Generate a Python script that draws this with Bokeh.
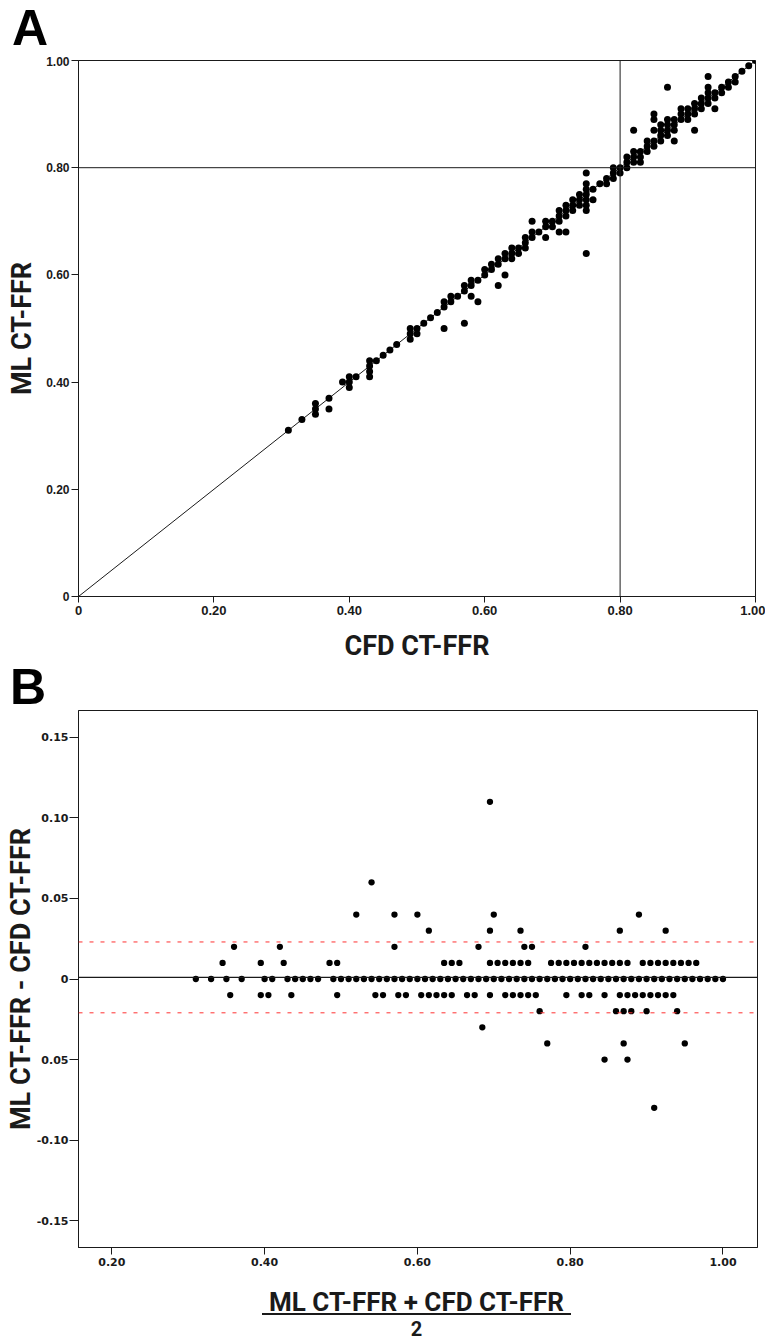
from bokeh.plotting import figure
from bokeh.models import Range1d, FixedTicker, Span, Div
from bokeh.layouts import column
from bokeh.embed import file_html
from bokeh.resources import INLINE

# ---------------- Panel A data : CFD CT-FFR (x) vs ML CT-FFR (y) ----------------
# points lying on the identity line (CFD == ML)
a_on_line = [0.31, 0.33, 0.35, 0.37, 0.40, 0.41, 0.43, 0.44, 0.45, 0.46, 0.47,
             0.49, 0.50, 0.51, 0.52, 0.53, 0.54, 0.55, 0.56, 0.57, 0.58, 0.59,
             0.60, 0.61, 0.62, 0.63, 0.64, 0.65, 0.66, 0.67, 0.68, 0.69, 0.70,
             0.71, 0.72, 0.73, 0.74, 0.75, 0.76, 0.77, 0.78, 0.79, 0.80, 0.81,
             0.82, 0.83, 0.84, 0.85, 0.86, 0.87, 0.88, 0.89, 0.90, 0.91, 0.92,
             0.93, 0.94, 0.95, 0.96, 0.97, 0.98, 0.99, 1.00]
# points off the identity line
a_cfd = [0.35, 0.40, 0.43, 0.49, 0.50, 0.64, 0.65, 0.66, 0.70, 0.71, 0.72, 0.73,
         0.74, 0.75, 0.78, 0.79, 0.80, 0.81, 0.82, 0.83, 0.84, 0.85, 0.86, 0.87,
         0.88, 0.90, 0.91, 0.92, 0.93, 0.94, 0.95, 0.96, 0.97,
         0.35, 0.39, 0.40, 0.43, 0.49, 0.54, 0.55, 0.57, 0.58, 0.60, 0.61, 0.62,
         0.63, 0.64, 0.66, 0.67, 0.69, 0.71, 0.72, 0.73, 0.74, 0.75, 0.79, 0.81,
         0.82, 0.84, 0.86, 0.87, 0.88, 0.89, 0.90, 0.91, 0.92, 0.93,
         0.37, 0.43, 0.58, 0.69, 0.75, 0.76, 0.83,
         0.63, 0.71, 0.75, 0.88, 0.94,
         0.54, 0.59, 0.62, 0.72, 0.91,
         0.57, 0.75,
         0.75, 0.85, 0.86, 0.87, 0.89, 0.93,
         0.67, 0.75, 0.85, 0.93, 0.82, 0.85, 0.87]
a_ml = [0.34, 0.39, 0.42, 0.48, 0.49, 0.63, 0.64, 0.65, 0.69, 0.70, 0.71, 0.72,
        0.73, 0.74, 0.77, 0.78, 0.79, 0.80, 0.81, 0.82, 0.83, 0.84, 0.85, 0.86,
        0.87, 0.89, 0.90, 0.91, 0.92, 0.93, 0.94, 0.95, 0.96,
        0.36, 0.40, 0.41, 0.44, 0.50, 0.55, 0.56, 0.58, 0.59, 0.61, 0.62, 0.63,
        0.64, 0.65, 0.67, 0.68, 0.70, 0.72, 0.73, 0.74, 0.75, 0.76, 0.80, 0.82,
        0.83, 0.85, 0.87, 0.88, 0.89, 0.90, 0.91, 0.92, 0.93, 0.94,
        0.35, 0.41, 0.56, 0.67, 0.73, 0.74, 0.81,
        0.60, 0.68, 0.72, 0.85, 0.91,
        0.50, 0.55, 0.58, 0.68, 0.87,
        0.51, 0.64,
        0.77, 0.87, 0.88, 0.89, 0.91, 0.95,
        0.70, 0.79, 0.89, 0.97, 0.87, 0.90, 0.95]
a_ticks = [0.0, 0.2, 0.4, 0.6, 0.8, 1.0]
a_tick_labels = ["0", "0.20", "0.40", "0.60", "0.80", "1.00"]
identity = [0.0, 1.0]
cutoff = 0.80

# ---------------- Panel B data : Bland-Altman (mean, difference) ----------------
b_mean_0 = a_on_line
b_mean_p01 = [0.345, 0.395, 0.425, 0.485, 0.495, 0.635, 0.645, 0.655, 0.695, 0.705,
              0.715, 0.725, 0.735, 0.745, 0.775, 0.785, 0.795, 0.805, 0.815, 0.825,
              0.835, 0.845, 0.855, 0.865, 0.875, 0.895, 0.905, 0.915, 0.925, 0.935,
              0.945, 0.955, 0.965]
b_mean_m01 = [0.355, 0.395, 0.405, 0.435, 0.495, 0.545, 0.555, 0.575, 0.585, 0.605,
              0.615, 0.625, 0.635, 0.645, 0.665, 0.675, 0.695, 0.715, 0.725, 0.735,
              0.745, 0.755, 0.795, 0.815, 0.825, 0.845, 0.865, 0.875, 0.885, 0.895,
              0.905, 0.915, 0.925, 0.935]
b_mean_p02 = [0.36, 0.42, 0.57, 0.68, 0.74, 0.75, 0.82]
b_mean_p03 = [0.615, 0.695, 0.735, 0.865, 0.925]
b_mean_p04 = [0.52, 0.57, 0.60, 0.70, 0.89]
b_mean_p06 = [0.54]
b_mean_p11 = [0.695]
b_mean_m02 = [0.76, 0.86, 0.87, 0.88, 0.90, 0.94]
b_mean_m03 = [0.685]
b_mean_m04 = [0.77, 0.87, 0.95]
b_mean_m05 = [0.845, 0.875]
b_mean_m08 = [0.91]
b_rows = [(0.0, b_mean_0), (0.01, b_mean_p01), (-0.01, b_mean_m01),
          (0.02, b_mean_p02), (0.03, b_mean_p03), (0.04, b_mean_p04),
          (0.06, b_mean_p06), (0.11, b_mean_p11), (-0.02, b_mean_m02),
          (-0.03, b_mean_m03), (-0.04, b_mean_m04), (-0.05, b_mean_m05),
          (-0.08, b_mean_m08)]
bias = 0.001
loa_upper = 0.023
loa_lower = -0.021
b_xticks = [0.2, 0.4, 0.6, 0.8, 1.0]
b_xtick_labels = ["0.20", "0.40", "0.60", "0.80", "1.00"]
b_yticks = [-0.15, -0.10, -0.05, 0.0, 0.05, 0.10, 0.15]
b_ytick_labels = ["-0.15", "-0.10", "0.05", "0", "0.05", "0.10", "0.15"]

b_x, b_y = [], []
for d, means in b_rows:
    b_x += means
    b_y += [d] * len(means)

INK = "#1a1a1a"
LABEL_FONT = "Roboto"
W = 765


def style_common(p):
    p.grid.visible = False
    p.outline_line_color = INK
    p.outline_line_width = 1
    p.background_fill_color = "white"
    p.border_fill_color = "white"
    for ax in (p.xaxis, p.yaxis):
        ax.axis_line_color = INK
        ax.major_tick_line_color = INK
        ax.minor_tick_line_color = None
        ax.major_tick_in = 0
        ax.major_label_text_color = INK
        ax.axis_label_text_font = LABEL_FONT
        ax.axis_label_text_font_size = "27px"
        ax.axis_label_text_font_style = "bold"
        ax.axis_label_text_color = INK


def letter_div(letter, height, line_height, pad_left):
    html = ("<div style=\"height:%dpx;padding-left:%dpx;font-family:'Liberation Sans',sans-serif;"
            "font-weight:bold;font-size:50px;line-height:%dpx;color:#000\">%s</div>"
            % (height, pad_left, line_height, letter))
    return Div(text=html, width=W, height=height, margin=(0, 0, 0, 0))


# ---------------- Figure A ----------------
pA = figure(frame_width=677, frame_height=536, x_range=Range1d(0, 1), y_range=Range1d(0, 1),
            min_border_left=78, min_border_right=10, min_border_top=4, min_border_bottom=68,
            output_backend="svg", toolbar_location=None)
style_common(pA)
pA.xaxis.ticker = FixedTicker(ticks=a_ticks)
pA.yaxis.ticker = FixedTicker(ticks=a_ticks)
pA.xaxis.major_label_overrides = dict(zip(a_ticks, a_tick_labels))
pA.yaxis.major_label_overrides = dict(zip(a_ticks, a_tick_labels))
for ax in (pA.xaxis, pA.yaxis):
    ax.major_label_text_font = "Liberation Sans"
    ax.major_label_text_font_style = "bold"
pA.xaxis.major_label_text_font_size = "13px"
pA.yaxis.major_label_text_font_size = "12px"
pA.xaxis.major_tick_out = 6
pA.yaxis.major_tick_out = 7
pA.xaxis.major_label_standoff = 3
pA.yaxis.major_label_standoff = 2
pA.xaxis.axis_label = "CFD CT-FFR"
pA.xaxis.axis_label_standoff = 12
pA.yaxis.axis_label = "ML CT-FFR"
pA.yaxis.axis_label_standoff = 5

pA.line(identity, identity, line_color=INK, line_width=1)
pA.add_layout(Span(location=cutoff, dimension="height", line_color=INK, line_width=1))
pA.add_layout(Span(location=cutoff, dimension="width", line_color=INK, line_width=1))
pA.scatter(a_on_line, a_on_line, size=7, marker="circle", fill_color="black", line_color=None)
pA.scatter(a_cfd, a_ml, size=7, marker="circle", fill_color="black", line_color=None)

# ---------------- Figure B ----------------
pB = figure(frame_width=679, frame_height=537, x_range=Range1d(0.1564, 1.0452),
            y_range=Range1d(-0.1667, 0.1667),
            min_border_left=77, min_border_right=9, min_border_top=4, min_border_bottom=28,
            output_backend="svg", toolbar_location=None)
style_common(pB)
pB.xaxis.ticker = FixedTicker(ticks=b_xticks)
pB.yaxis.ticker = FixedTicker(ticks=b_yticks)
pB.xaxis.major_label_overrides = dict(zip(b_xticks, b_xtick_labels))
pB.yaxis.major_label_overrides = dict(zip(b_yticks, b_ytick_labels))
for ax in (pB.xaxis, pB.yaxis):
    ax.major_label_text_font = "DejaVu Sans"
    ax.major_label_text_font_style = "bold"
    ax.major_label_text_font_size = "11px"
pB.xaxis.major_tick_out = 7
pB.yaxis.major_tick_out = 9
pB.xaxis.major_label_standoff = 3
pB.yaxis.major_label_standoff = 1
pB.yaxis.axis_label = "ML CT-FFR - CFD CT-FFR"
pB.yaxis.axis_label_standoff = -3

pB.add_layout(Span(location=loa_upper, dimension="width", line_color="#ff3030",
                   line_width=1, line_dash="4 7"))
pB.add_layout(Span(location=loa_lower, dimension="width", line_color="#ff3030",
                   line_width=1, line_dash="4 7"))
pB.add_layout(Span(location=bias, dimension="width", line_color=INK, line_width=1.4))
pB.scatter(b_x, b_y, size=6.3, marker="circle", fill_color="black", line_color=None)

frac_html = (
    "<div style=\"position:relative;width:%dpx;height:67px;overflow:hidden;"
    "font-family:'Roboto',sans-serif;font-weight:bold;color:#1a1a1a\">"
    "<div style=\"position:absolute;left:77px;width:679px;top:17px;text-align:center;"
    "font-size:26px;line-height:21px\">"
    "<span style=\"display:inline-block;padding:0 7px;border-bottom:2px solid #1a1a1a;"
    "line-height:21px\">ML CT-FFR + CFD CT-FFR</span></div>"
    "<div style=\"position:absolute;left:77px;width:679px;top:42px;text-align:center;"
    "font-size:20px;line-height:24px\">2</div></div>" % W
)
frac = Div(text=frac_html, width=W, height=67, margin=(0, 0, 0, 0))

divA = letter_div("A", 56, 56, 12)
divB = letter_div("B", 42, 46, 10)

layout = column(divA, pA, divB, pB, frac, spacing=0)
open("out.html", "w").write(file_html(layout, INLINE))
